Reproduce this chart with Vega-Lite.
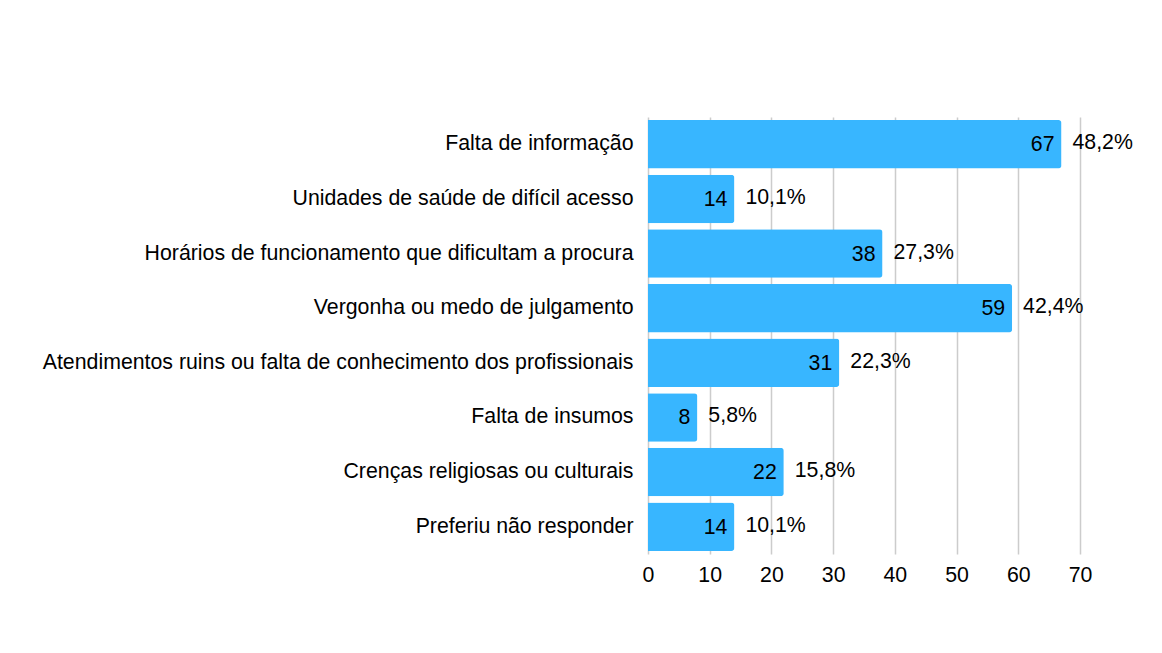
{
  "$schema": "https://vega.github.io/schema/vega-lite/v6.json",
  "width": 432,
  "height": 437,
  "autosize": {"type": "none"},
  "padding": {"left": 648, "top": 117, "right": 82, "bottom": 99},
  "background": "white",
  "config": {
    "font": "Liberation Sans",
    "view": {"stroke": null}
  },
  "data": {
    "values": [
      {"motivo": "Falta de informação", "n": 67, "pct": "48,2%"},
      {"motivo": "Unidades de saúde de difícil acesso", "n": 14, "pct": "10,1%"},
      {"motivo": "Horários de funcionamento que dificultam a procura", "n": 38, "pct": "27,3%"},
      {"motivo": "Vergonha ou medo de julgamento", "n": 59, "pct": "42,4%"},
      {"motivo": "Atendimentos ruins ou falta de conhecimento dos profissionais", "n": 31, "pct": "22,3%"},
      {"motivo": "Falta de insumos", "n": 8, "pct": "5,8%"},
      {"motivo": "Crenças religiosas ou culturais", "n": 22, "pct": "15,8%"},
      {"motivo": "Preferiu não responder", "n": 14, "pct": "10,1%"}
    ]
  },
  "encoding": {
    "y": {
      "field": "motivo",
      "type": "nominal",
      "sort": null,
      "scale": {"paddingInner": 0.11, "paddingOuter": 0.055},
      "axis": {
        "title": null,
        "ticks": false,
        "domain": false,
        "labelFontSize": 21.3,
        "labelColor": "#000000",
        "labelPadding": 15,
        "labelLimit": 700
      }
    },
    "x": {
      "field": "n",
      "type": "quantitative",
      "scale": {"domain": [0, 70], "nice": false},
      "axis": {
        "title": null,
        "values": [0, 10, 20, 30, 40, 50, 60, 70],
        "ticks": false,
        "domain": false,
        "grid": true,
        "gridColor": "#cccccc",
        "gridWidth": 1.5,
        "labelFlush": false,
        "labelFontSize": 21.3,
        "labelColor": "#000000",
        "labelPadding": 10
      }
    }
  },
  "layer": [
    {
      "mark": {"type": "bar", "color": "#38B6FF", "cornerRadiusEnd": 3}
    },
    {
      "mark": {"type": "text", "align": "right", "baseline": "middle", "dx": -7, "dy": 1, "fontSize": 21.3, "color": "#000000"},
      "encoding": {"text": {"field": "n", "type": "quantitative"}}
    },
    {
      "mark": {"type": "text", "align": "left", "baseline": "middle", "dx": 11, "dy": -1, "fontSize": 21.3, "color": "#000000"},
      "encoding": {"text": {"field": "pct", "type": "nominal"}}
    }
  ]
}
